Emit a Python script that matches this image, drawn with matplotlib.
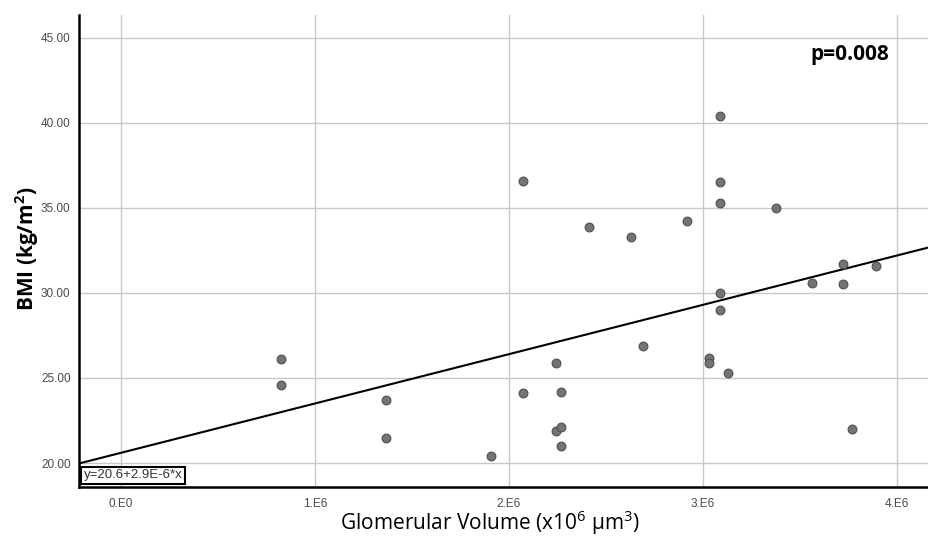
import matplotlib
matplotlib.use("Agg")
import matplotlib.pyplot as plt

plt.rcParams['font.family'] = ['Liberation Sans', 'DejaVu Sans']
plt.rcParams['mathtext.fontset'] = 'custom'
plt.rcParams['mathtext.rm'] = 'Open Sans'
plt.rcParams['mathtext.bf'] = 'Open Sans:bold'

# Glomerular volume (um^3) and BMI (kg/m^2)
volume = [0.825e6, 0.825e6, 1.366e6, 1.366e6, 1.907e6, 2.07e6, 2.07e6,
          2.24e6, 2.27e6, 2.24e6, 2.27e6, 2.27e6, 2.41e6, 2.63e6, 2.69e6,
          2.92e6, 3.03e6, 3.03e6, 3.09e6, 3.09e6, 3.09e6, 3.09e6, 3.09e6,
          3.13e6, 3.376e6, 3.56e6, 3.72e6, 3.72e6, 3.77e6, 3.89e6]
bmi = [26.1, 24.6, 23.7, 21.5, 20.4, 24.1, 36.6,
       25.9, 24.2, 21.9, 22.1, 21.0, 33.9, 33.3, 26.9,
       34.2, 26.2, 25.9, 40.4, 36.5, 35.3, 30.0, 29.0,
       25.3, 35.0, 30.6, 31.7, 30.5, 22.0, 31.6]

# fit line y = 20.6 + 2.9E-6 * x
intercept = 20.6
slope = 2.9e-6

x_ticks = [0, 1e6, 2e6, 3e6, 4e6]
x_tick_labels = ['0.E0', '1.E6', '2.E6', '3.E6', '4.E6']
y_ticks = [20, 25, 30, 35, 40, 45]
y_tick_labels = ['20.00', '25.00', '30.00', '35.00', '40.00', '45.00']

fig = plt.figure(figsize=(9.29, 5.36), dpi=100)
ax = fig.add_axes([0.085, 0.0914, 0.915, 0.881])

xmin, xmax = -0.2165e6, 4.165e6
ax.set_xlim(xmin, xmax)
ax.set_ylim(18.59, 46.35)

ax.grid(True, color='#c8c8c8', linewidth=1.0)
ax.set_axisbelow(True)

ax.plot([xmin, xmax], [intercept + slope * xmin, intercept + slope * xmax],
        color='black', linewidth=1.5, zorder=2)
ax.scatter(volume, bmi, s=40, color='#747474', edgecolors='#505050',
           linewidths=0.8, zorder=3)

ax.set_xticks(x_ticks)
ax.set_xticklabels(x_tick_labels)
ax.set_yticks(y_ticks)
ax.set_yticklabels(y_tick_labels)
ax.tick_params(length=0, labelsize=8.5, labelcolor='#4a4a4a')
ax.tick_params(axis='x', pad=8)
ax.tick_params(axis='y', pad=6)

for side in ['top', 'right']:
    ax.spines[side].set_visible(False)
for side in ['left', 'bottom']:
    ax.spines[side].set_linewidth(1.8)
    ax.spines[side].set_color('black')

ax.text(0.006, 0.012, 'y=20.6+2.9E-6*x', transform=ax.transAxes,
        fontsize=9.5, color='#333333', ha='left', va='bottom',
        bbox=dict(boxstyle='square,pad=0.2', facecolor='white',
                  edgecolor='black', linewidth=1.5))

ax.text(0.953, 0.915, 'p=0.008', transform=ax.transAxes, fontsize=15,
        fontweight='bold', ha='right', va='center',
        family=['Open Sans', 'DejaVu Sans'])

fig.text(0.527, 0.024, r'Glomerular Volume (x10$^{\mathregular{6}}$ µm$^{\mathregular{3}}$)',
         ha='center', va='center', fontsize=15,
         family=['Open Sans', 'DejaVu Sans'])
fig.text(0.029, 0.535, r'BMI (kg/m$^{\mathbf{2}}$)', rotation=90,
         ha='center', va='center', fontsize=15, fontweight='bold',
         family=['Open Sans', 'DejaVu Sans'])

fig.savefig('out.png', dpi=100)
